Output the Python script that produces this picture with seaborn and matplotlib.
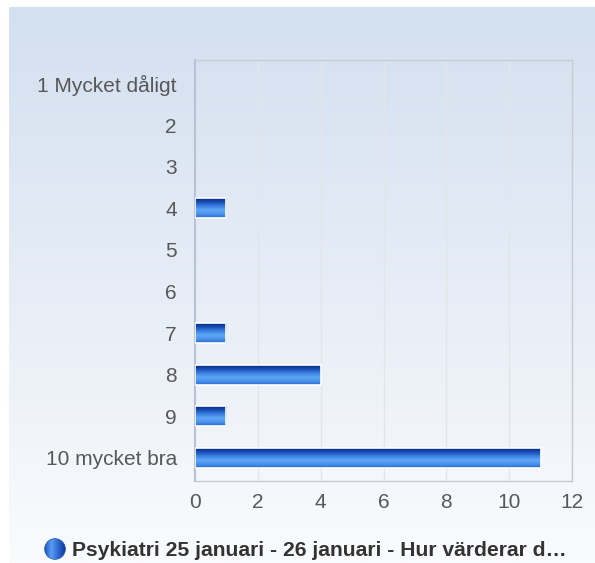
import numpy as np
import pandas as pd
import matplotlib.pyplot as plt
import seaborn as sns
from matplotlib.colors import LinearSegmentedColormap

categories = ['1 Mycket dåligt', '2', '3', '4', '5', '6', '7', '8', '9', '10 mycket bra']
counts = [0, 0, 0, 1, 0, 0, 1, 4, 1, 11]
x_ticks = [0, 2, 4, 6, 8, 10, 12]
series_name = 'Psykiatri 25 januari - 26 januari - Hur värderar d…'

data = pd.DataFrame({'kategori': categories, 'antal': counts})

sns.set_theme(style='white')
plt.rcParams['font.family'] = ['Liberation Sans', 'DejaVu Sans']

fig = plt.figure(figsize=(5.95, 5.63), dpi=100)
W, H = 595, 563

# bakgrund med gradient
bg = fig.add_axes([9 / W, 0, 1 - 9 / W, 1 - 7 / H])
bg_cmap = LinearSegmentedColormap.from_list('bg', ['#d3e0f0', '#e6edf6', '#fafbfd'])
bg.imshow(np.linspace(0, 1, 256).reshape(-1, 1), aspect='auto', cmap=bg_cmap,
          extent=[0, 1, 0, 1], origin='upper')
bg.set_axis_off()

ax = fig.add_axes([195 / W, 1 - 481 / H, (572 - 195) / W, (481 - 60) / H])
ax.patch.set_alpha(0)

sns.barplot(data=data, x='antal', y='kategori', orient='h', ax=ax,
            color='#2a6ad0', width=0.48, edgecolor='white', linewidth=1.2)

bar_cmap = LinearSegmentedColormap.from_list(
    'bar', ['#062a80', '#1a4fb8', '#3a80e0', '#5ea6f5', '#4c94ec', '#2a6ad4'])
for p in ax.patches:
    w = p.get_width()
    if w <= 0:
        continue
    x0, y0 = p.get_x(), p.get_y()
    h = p.get_height()
    im = ax.imshow(np.linspace(0, 1, 64).reshape(-1, 1), aspect='auto', cmap=bar_cmap,
                   extent=[x0, x0 + w, y0 + h, y0], origin='upper', zorder=3)
    im.set_clip_path(p)
    p.set_facecolor('none')
    p.set_zorder(4)

ax.set_xlim(0, 12)
ax.set_ylim(len(categories) - 0.5 + 0.06, -0.5 - 0.07)
ax.set_xticks(x_ticks)
ax.set_xticklabels([str(t) for t in x_ticks])
ax.set_xlabel('')
ax.set_ylabel('')
ax.grid(axis='x', color='#e2e5ea', linewidth=1)
ax.set_axisbelow(True)
for side in ['top', 'right', 'bottom']:
    ax.spines[side].set_color('#c8ccd2')
    ax.spines[side].set_linewidth(1)
ax.spines['left'].set_color('#b8c2d4')
ax.spines['left'].set_linewidth(1.5)
ax.tick_params(axis='y', length=0, labelsize=15, labelcolor='#585858', pad=13)
ax.tick_params(axis='x', length=0, labelsize=15, labelcolor='#585858', pad=8.5)

# legend längst ner
leg_ax = fig.add_axes([44 / W, 1 - 560 / H, 22 / W, 22 / H])
leg_ax.set_axis_off()
leg_ax.set_xlim(0, 1)
leg_ax.set_ylim(0, 1)
circ = plt.Circle((0.5, 0.5), 0.47, transform=leg_ax.transData, facecolor='none',
                  edgecolor='#1a50b0', linewidth=0.5)
leg_ax.add_patch(circ)
leg_cmap = LinearSegmentedColormap.from_list('leg', ['#1a50c0', '#5a9cf0', '#2a66d0', '#0a3590'])
gim = leg_ax.imshow(np.linspace(0, 1, 64).reshape(1, -1), aspect='auto', cmap=leg_cmap,
                    extent=[0, 1, 0, 1])
gim.set_clip_path(circ)
fig.text(72 / W, 1 - 550 / H, series_name, fontsize=15.2, fontweight='bold',
         color='#333333', va='center', ha='left')

fig.savefig('out.png', dpi=100)
